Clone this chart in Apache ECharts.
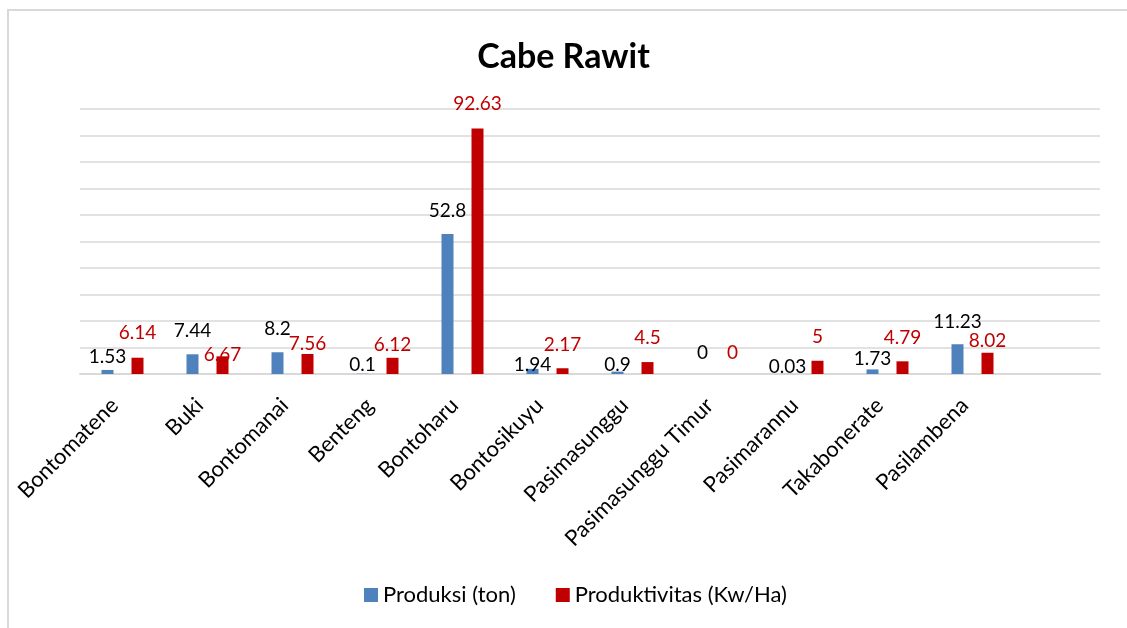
<!DOCTYPE html>
<html>
<head>
<meta charset="utf-8">
<script src="https://cdn.jsdelivr.net/npm/echarts@6/dist/echarts.min.js"></script>
<style>
  html, body { margin: 0; padding: 0; background: #fff; }
  .frame {
    position: absolute; left: 7px; top: 9px; width: 1120px; height: 619px;
    border-left: 2px solid #d9d9d9; border-top: 2px solid #d9d9d9;
  }
  #chart { position: absolute; left: 0; top: 0; width: 1127px; height: 628px; }
</style>
</head>
<body>
<div class="frame"></div>
<div id="chart"></div>
<script>
// kecamatan, last slot left blank like the source sheet
const categories = ['Bontomatene', 'Buki', 'Bontomanai', 'Benteng', 'Bontoharu', 'Bontosikuyu',
  'Pasimasunggu', 'Pasimasunggu Timur', 'Pasimarannu', 'Takabonerate', 'Pasilambena', '']
const produksi = [1.53, 7.44, 8.2, 0.1, 52.8, 1.94, 0.9, 0, 0.03, 1.73, 11.23]
const produktivitas = [6.14, 6.67, 7.56, 6.12, 92.63, 2.17, 4.5, 0, 5, 4.79, 8.02]
const seriesNames = ['Produksi (ton)', 'Produktivitas (Kw/Ha)']

// how far (px) each data label sits above its bar, as hand-placed in the original
const produksiLift = [14, 24, 24, 9, 24, 4, 7, 22, 8, 11, 23]
const produktivitasLift = [25, 2, 11, 13, 25, 24, 25, 22, 24, 24, 12]

const font = 'Lato, "Open Sans", sans-serif'
const chart = echarts.init(document.getElementById('chart'))

const withLabels = (values, lifts) => values.map((v, i) => ({
  value: v,
  label: { offset: [0, 10 - lifts[i]] }
}))

const labelStyle = (color) => ({
  show: true,
  position: 'top',
  distance: 0,
  fontFamily: font,
  fontSize: 19,
  color: color
})

chart.setOption({
  backgroundColor: 'transparent',
  title: {
    text: 'Cabe Rawit',
    left: 'center',
    top: 35,
    textStyle: { fontFamily: font, fontSize: 34, fontWeight: 'bold', color: '#000' }
  },
  legend: {
    bottom: 17,
    left: 359,
    icon: 'rect',
    itemWidth: 14,
    itemHeight: 14,
    itemGap: 40,
    textStyle: { fontFamily: font, fontSize: 22, color: '#000' },
    data: seriesNames
  },
  grid: { left: 80, right: 27, top: 109, bottom: 254 },
  xAxis: {
    type: 'category',
    data: categories,
    axisLine: { lineStyle: { color: '#d9d9d9', width: 2 } },
    axisTick: { show: false },
    axisLabel: {
      interval: 0,
      rotate: 45,
      margin: 20,
      padding: [0, 11, 0, 0],
      fontFamily: font,
      fontSize: 22,
      color: '#000'
    }
  },
  yAxis: {
    type: 'value',
    min: 0,
    max: 100,
    interval: 10,
    axisLabel: { show: false },
    axisLine: { show: false },
    axisTick: { show: false },
    splitLine: { lineStyle: { color: '#d9d9d9', width: 1.5 } }
  },
  series: [
    {
      name: seriesNames[0],
      type: 'bar',
      data: withLabels(produksi, produksiLift),
      barWidth: 12,
      barGap: '150%',
      itemStyle: { color: '#4f81bd' },
      label: labelStyle('#000')
    },
    {
      name: seriesNames[1],
      type: 'bar',
      data: withLabels(produktivitas, produktivitasLift),
      barWidth: 12,
      itemStyle: { color: '#c00000' },
      label: labelStyle('#c00000')
    }
  ]
})
</script>
</body>
</html>
